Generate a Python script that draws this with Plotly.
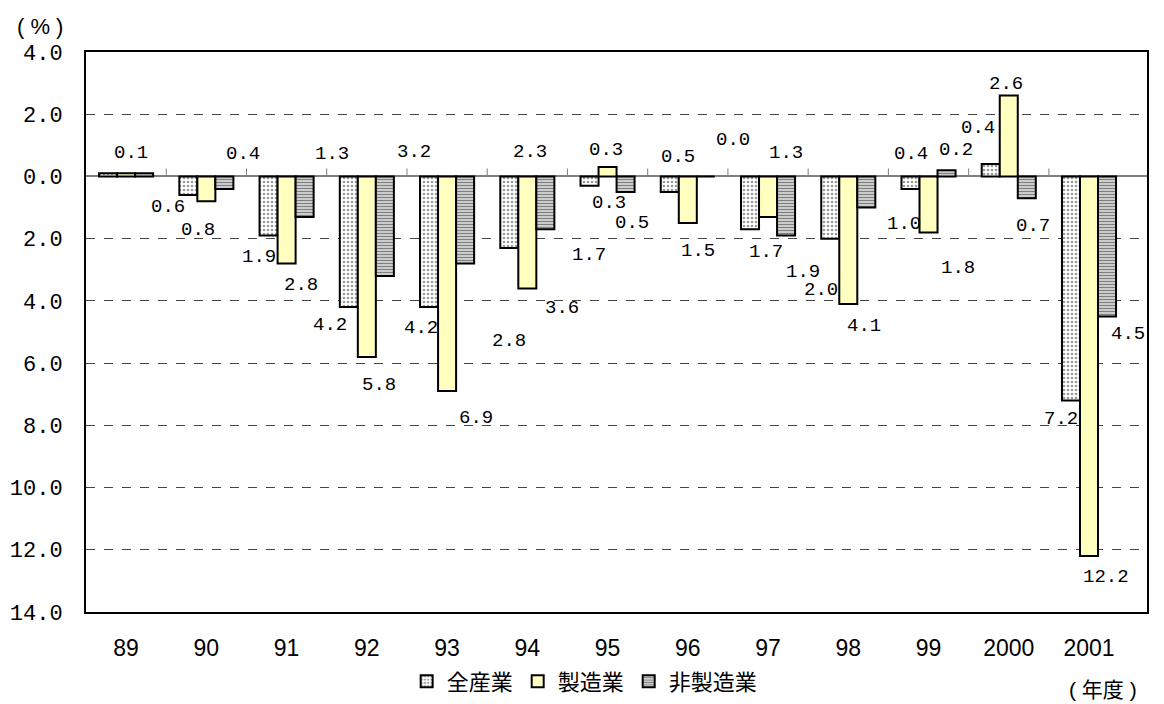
import plotly.graph_objects as go

# Fiscal years and growth rates (%) by sector
years = ["89", "90", "91", "92", "93", "94", "95", "96", "97", "98", "99", "2000", "2001"]
all_industry = [0.1, -0.6, -1.9, -4.2, -4.2, -2.3, -0.3, -0.5, -1.7, -2.0, -0.4, 0.4, -7.2]
manufacturing = [0.1, -0.8, -2.8, -5.8, -6.9, -3.6, 0.3, -1.5, -1.3, -4.1, -1.8, 2.6, -12.2]
non_manufacturing = [0.1, -0.4, -1.3, -3.2, -2.8, -1.7, -0.5, 0.0, -1.9, -1.0, 0.2, -0.7, -4.5]
series_names = ["全産業", "製造業", "非製造業"]

y_ticks = [4, 2, 0, -2, -4, -6, -8, -10, -12, -14]

# Pixel offsets (dx, dy) of each value label from the end of its bar; None = no label
label_offsets = {
    "全産業": [(5, 20), (-38, -12), (-28, -21), (-37, -18), (-26, -21), (3, 96), (1, -17),
             (-10, 35), (-2, -23), (-27, -51), (-18, 35), (-31, 36), (-28, -19)],
    "製造業": [None, (-8, -29), (14, -21), (12, -28), (29, -27), (35, -20), (-2, 17),
             (10, -28), (18, 64), (16, -22), (29, -36), (-3, 12), (17, -21)],
    "非製造業": [None, (37, 35), (45, 63), (47, 124), (62, -77), (62, -26), (24, -31),
              (45, 36), (35, -36), (56, -16), (27, 20), (24, -28), (39, -18)],
}

MONO = "Liberation Mono, DejaVu Sans Mono, monospace"
LABEL_FONT = dict(family=MONO, size=19, color="black")
CJK_FONT = "Noto Sans CJK JP"

fig = go.Figure()

styles = [
    dict(color="white", line=dict(color="black", width=2),
         pattern=dict(shape=".", fgcolor="#333333", bgcolor="#ffffff", size=4, solidity=0.35)),
    dict(color="#FFFFC0", line=dict(color="black", width=2)),
    dict(color="white", line=dict(color="black", width=2),
         pattern=dict(shape="-", fgcolor="black", bgcolor="white", size=3, solidity=0.6)),
]

for name, vals, st in zip(series_names, [all_industry, manufacturing, non_manufacturing], styles):
    fig.add_trace(go.Bar(x=years, y=vals, name=name, marker=st))

# Value labels (shown as magnitudes)
annotations = []
for name, vals in zip(series_names, [all_industry, manufacturing, non_manufacturing]):
    for i, (v, off) in enumerate(zip(vals, label_offsets[name])):
        if off is None:
            continue
        annotations.append(dict(
            x=i, y=v, xref="x", yref="y", text=f"{abs(v):.1f}",
            showarrow=False, xshift=off[0], yshift=off[1],
            xanchor="center", yanchor="middle", font=LABEL_FONT,
        ))

annotations.append(dict(x=-0.0434, y=1.046, xref="paper", yref="paper", text="( % )",
                        showarrow=False, xanchor="center", yanchor="middle",
                        font=dict(family="Liberation Sans, " + CJK_FONT, size=22, color="black")))
annotations.append(dict(x=0.9585, y=-0.139, xref="paper", yref="paper", text="( 年度 )",
                        showarrow=False, xanchor="center", yanchor="middle",
                        font=dict(family="Liberation Sans, " + CJK_FONT, size=21, color="black")))

# Small ticks along the zero line at category boundaries
shapes = [
    dict(type="line", xref="x", yref="y", x0=k - 0.5, x1=k - 0.5,
         ysizemode="pixel", yanchor=0, y0=0, y1=8,
         line=dict(color="#808080", width=1))
    for k in range(1, len(years))
]

fig.update_layout(
    width=1164, height=704,
    margin=dict(l=86, r=17, t=52, b=92, autoexpand=False),
    paper_bgcolor="white", plot_bgcolor="white",
    barmode="group", bargap=0.326, bargroupgap=0,
    showlegend=True,
    legend=dict(orientation="h", x=0.47, xanchor="center",
                yref="container", y=0.032, yanchor="middle",
                font=dict(family=CJK_FONT, size=22, color="black"),
                itemwidth=30, tracegroupgap=0, bgcolor="rgba(0,0,0,0)"),
    annotations=annotations,
    shapes=shapes,
    xaxis=dict(type="category", showline=True, linecolor="black", linewidth=2, mirror=True,
               showgrid=False, ticks="", ticklabelstandoff=14, automargin=False,
               tickfont=dict(family="Liberation Sans, Arial", size=23, color="black")),
    yaxis=dict(range=[-14, 4], tickvals=y_ticks, ticktext=[f"{abs(t):.1f}" for t in y_ticks],
               showline=True, linecolor="black", linewidth=2, mirror=True,
               showgrid=True, gridcolor="#444444", gridwidth=1, griddash="dash",
               zeroline=True, zerolinecolor="#808080", zerolinewidth=2,
               ticks="", ticklabelstandoff=17, automargin=False,
               tickfont=dict(family=MONO, size=22, color="black")),
)

fig.write_html("out.html")
